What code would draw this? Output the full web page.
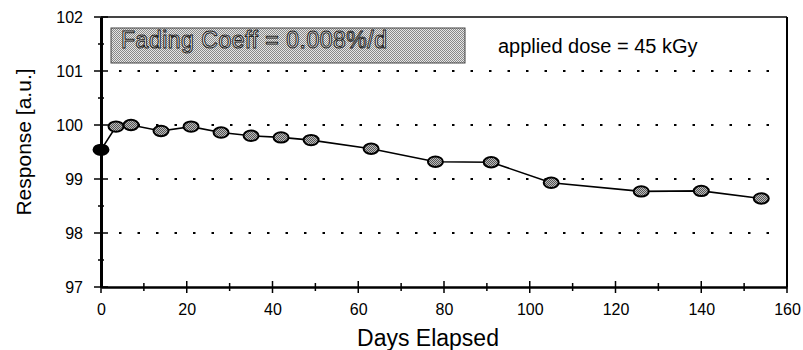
<!DOCTYPE html>
<html>
<head>
<meta charset="utf-8">
<script src="https://cdn.jsdelivr.net/npm/d3@7"></script>
<style>
  body { margin: 0; background: #fff; }
  svg { font-family: Arial, "Liberation Sans", sans-serif; }
</style>
</head>
<body>
<div id="chart"></div>
<script>
// Data
const days = [0, 3.5, 7, 14, 21, 28, 35, 42, 49, 63, 78, 91, 105, 126, 140, 154];
const response = [99.54, 99.97, 100.0, 99.89, 99.97, 99.86, 99.80, 99.77, 99.72, 99.56, 99.32, 99.31, 98.93, 98.77, 98.78, 98.64];
const xTicks = [0, 20, 40, 60, 80, 100, 120, 140, 160];
const yTicks = [97, 98, 99, 100, 101, 102];
const gridValues = [98, 99, 100, 101];

const width = 803,
  height = 350;
const margin = { top: 17, right: 16, bottom: 63, left: 101 };

const svg = d3
  .select("#chart")
  .append("svg")
  .attr("width", width)
  .attr("height", height);

// stipple patterns for the annotation box and the markers
const defs = svg.append("defs");
function stipple(id, light, dark) {
  const pat = defs
    .append("pattern")
    .attr("id", id)
    .attr("width", 2)
    .attr("height", 2)
    .attr("patternUnits", "userSpaceOnUse");
  pat.append("rect").attr("width", 2).attr("height", 2).attr("fill", light);
  pat.append("rect").attr("width", 1).attr("height", 1).attr("fill", dark);
  pat.append("rect").attr("x", 1).attr("y", 1).attr("width", 1).attr("height", 1).attr("fill", dark);
}
stipple("stipple", "#e6e6e6", "#888");
stipple("markfill", "#bbb", "#555");

const x = d3
  .scaleLinear()
  .domain([0, 160])
  .range([margin.left, width - margin.right]);
const y = d3
  .scaleLinear()
  .domain([97, 102])
  .range([height - margin.bottom, margin.top]);

// dotted grid lines
svg
  .selectAll("line.grid")
  .data(gridValues)
  .enter()
  .append("line")
  .attr("class", "grid")
  .attr("x1", x(0) + 18)
  .attr("x2", x(160) - 4)
  .attr("y1", (d) => y(d))
  .attr("y2", (d) => y(d))
  .attr("stroke", "#000")
  .attr("stroke-width", 2)
  .attr("stroke-dasharray", "2.5,16");

// frame: top and right
svg
  .append("line")
  .attr("x1", x(0))
  .attr("x2", x(160))
  .attr("y1", y(102))
  .attr("y2", y(102))
  .attr("stroke", "#444")
  .attr("stroke-width", 2);
svg
  .append("line")
  .attr("x1", x(160))
  .attr("x2", x(160))
  .attr("y1", y(102))
  .attr("y2", y(97))
  .attr("stroke", "#000")
  .attr("stroke-width", 2);

// annotation box
svg
  .append("rect")
  .attr("x", 111)
  .attr("y", 28)
  .attr("width", 354)
  .attr("height", 35)
  .attr("fill", "url(#stipple)")
  .attr("stroke", "#444")
  .attr("stroke-width", 1);
svg
  .append("text")
  .attr("x", 121)
  .attr("y", 48)
  .attr("font-size", 23)
  .attr("textLength", 266)
  .attr("fill", "#f0f0f0")
  .attr("stroke", "#222")
  .attr("stroke-width", 1)
  .text("Fading Coeff = 0.008%/d");
svg
  .append("text")
  .attr("x", 498)
  .attr("y", 53)
  .attr("font-size", 20)
  .attr("fill", "#000")
  .text("applied dose = 45 kGy");

// x axis
const xAxis = svg
  .append("g")
  .attr("transform", `translate(0,${y(97)})`)
  .call(
    d3
      .axisBottom(x)
      .tickValues(xTicks)
      .tickFormat(d3.format("d"))
      .tickSize(0)
      .tickPadding(17)
  );
xAxis.select(".domain").attr("stroke-width", 2.5);
xAxis.selectAll("text").attr("font-size", 16).attr("fill", "#000");
svg
  .selectAll("line.xtick")
  .data(d3.range(0, 161, 10))
  .enter()
  .append("line")
  .attr("class", "xtick")
  .attr("x1", (d) => x(d))
  .attr("x2", (d) => x(d))
  .attr("y1", (d) => y(97) - (d % 20 === 0 ? 6 : 4))
  .attr("y2", (d) => y(97) + (d % 20 === 0 ? 6 : 4))
  .attr("stroke", "#000")
  .attr("stroke-width", 1.5);

// y axis
const yAxis = svg
  .append("g")
  .attr("transform", `translate(${x(0)},0)`)
  .call(
    d3
      .axisLeft(y)
      .tickValues(yTicks)
      .tickFormat(d3.format("d"))
      .tickSize(0)
      .tickPadding(18)
  );
yAxis.select(".domain").attr("stroke-width", 3);
yAxis.selectAll("text").attr("font-size", 16).attr("fill", "#000");
svg
  .selectAll("line.ytick")
  .data(d3.range(97, 102.01, 0.5))
  .enter()
  .append("line")
  .attr("class", "ytick")
  .attr("x1", (d) => x(0) - (d % 1 === 0 ? 7 : 3))
  .attr("x2", (d) => x(0) + (d % 1 === 0 ? 7 : 3))
  .attr("y1", (d) => y(d))
  .attr("y2", (d) => y(d))
  .attr("stroke", "#000")
  .attr("stroke-width", 1.5);

// axis titles
svg
  .append("text")
  .attr("x", 428)
  .attr("y", 346)
  .attr("text-anchor", "middle")
  .attr("font-size", 23)
  .text("Days Elapsed");
svg
  .append("text")
  .attr("transform", `translate(31,142) rotate(-90)`)
  .attr("text-anchor", "middle")
  .attr("font-size", 21)
  .text("Response [a.u.]");

// data line and markers
const line = d3
  .line()
  .x((d, i) => x(days[i]))
  .y((d) => y(d));
svg
  .append("path")
  .datum(response)
  .attr("d", line)
  .attr("fill", "none")
  .attr("stroke", "#000")
  .attr("stroke-width", 1.6);

svg
  .selectAll("ellipse.pt")
  .data(response)
  .enter()
  .append("ellipse")
  .attr("class", "pt")
  .attr("cx", (d, i) => x(days[i]))
  .attr("cy", (d) => y(d))
  .attr("rx", 7.5)
  .attr("ry", 5.2)
  .attr("fill", (d, i) => (i === 0 ? "#000" : "url(#markfill)"))
  .attr("stroke", "#000")
  .attr("stroke-width", 2);
</script>
</body>
</html>
